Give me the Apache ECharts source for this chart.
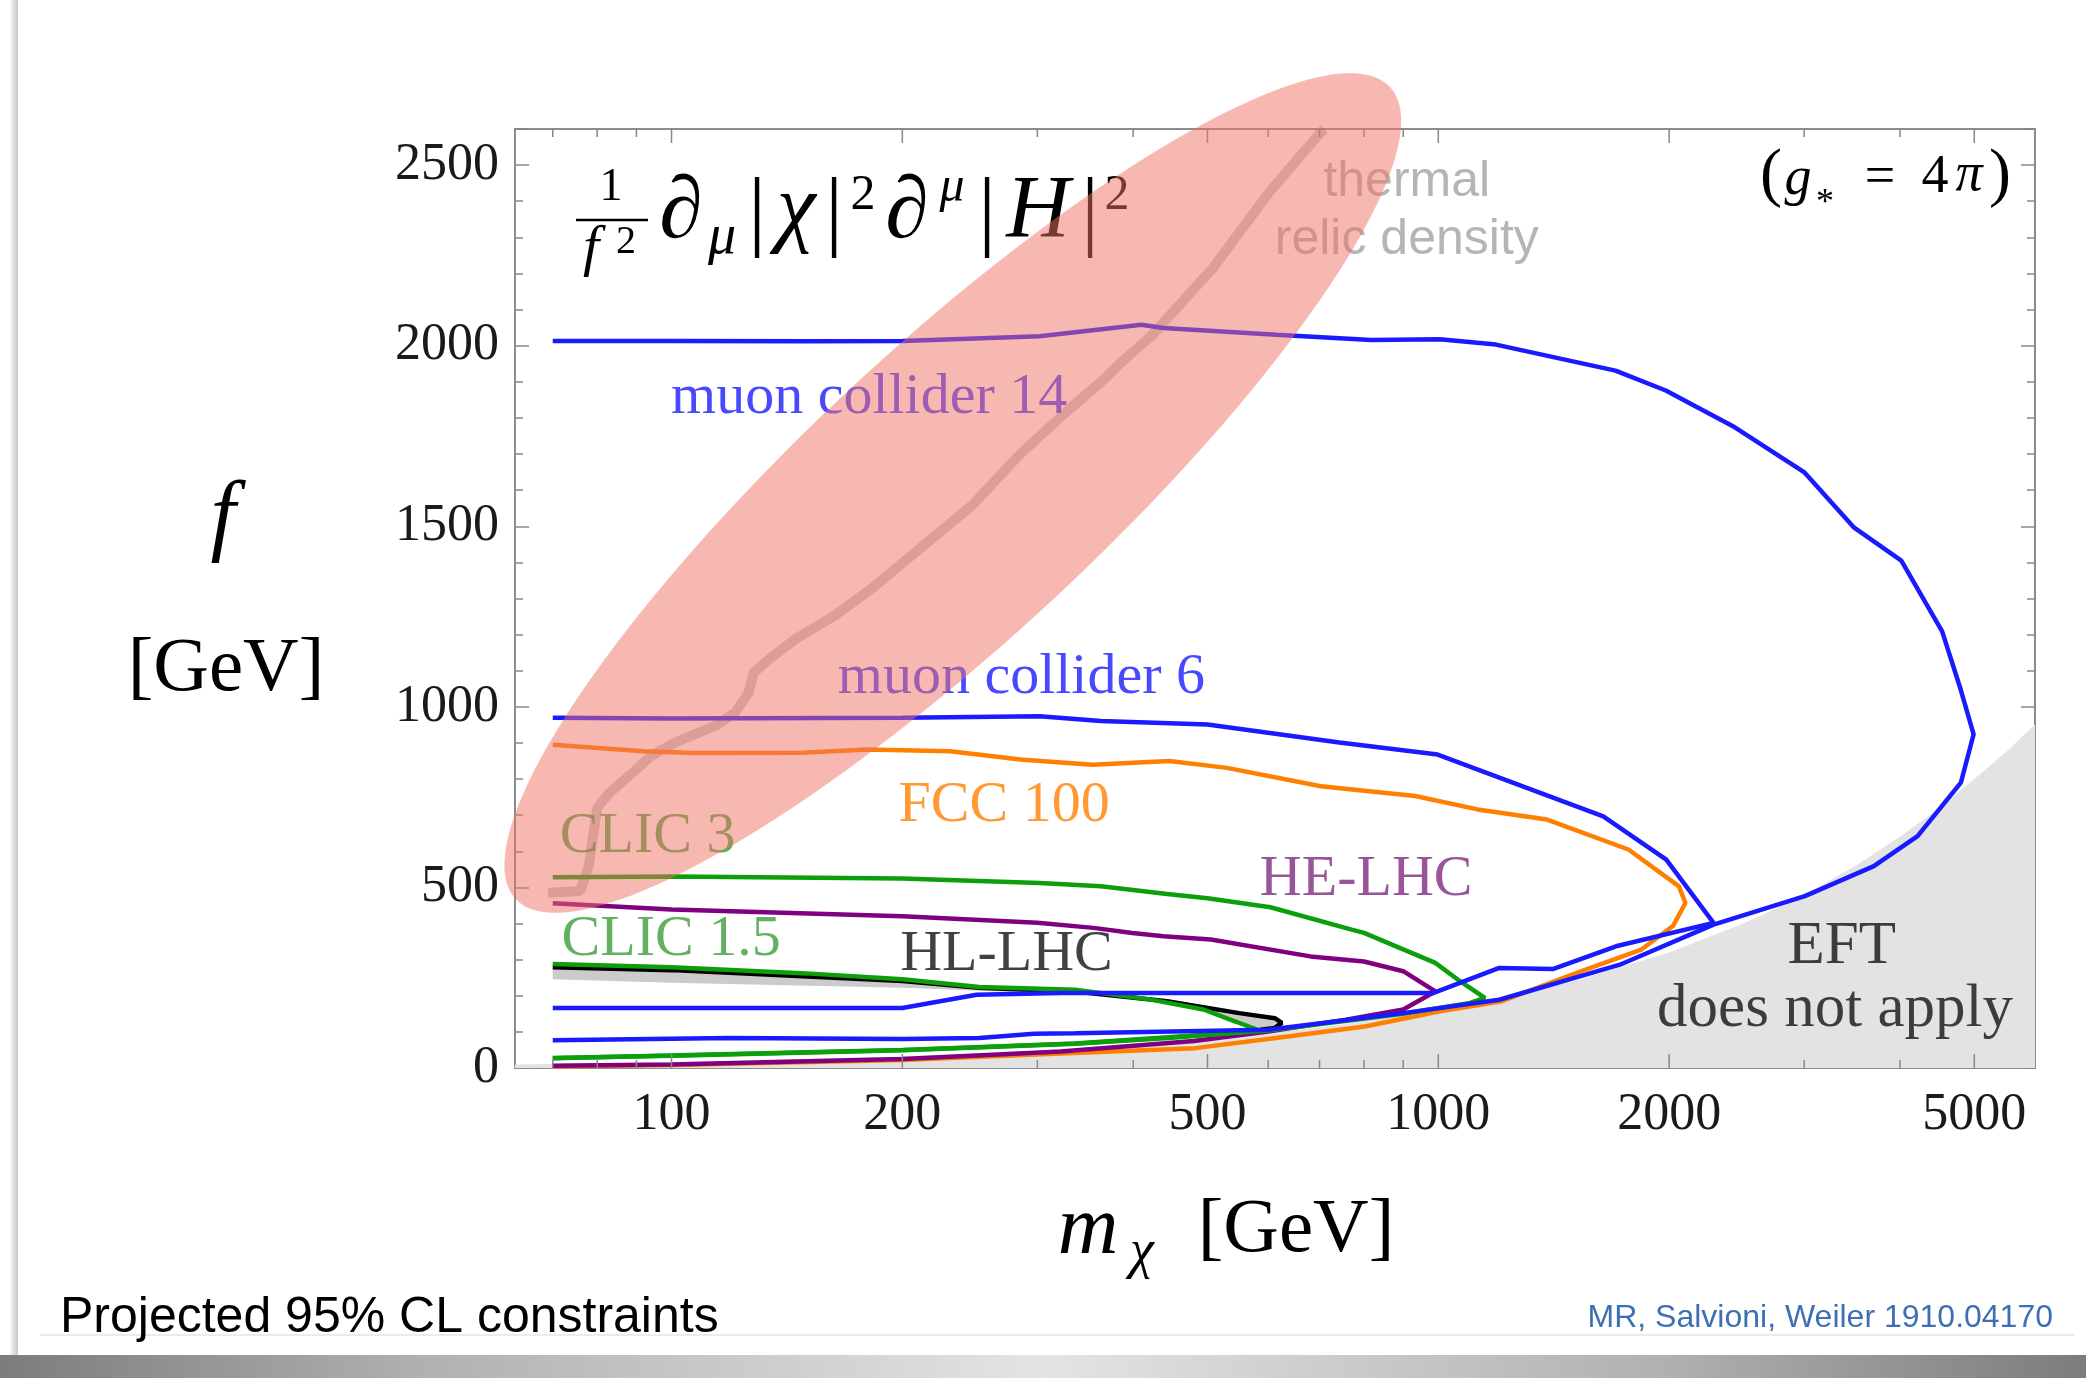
<!DOCTYPE html>
<html>
<head>
<meta charset="utf-8">
<script src="https://cdn.jsdelivr.net/npm/echarts@6/dist/echarts.min.js"></script>
<style>
  html, body { margin: 0; padding: 0; background: #fff; }
  #chart { width: 2086px; height: 1378px; }
</style>
</head>
<body>
<div id="chart"></div>
<script>
const SERIF = '"Liberation Serif", "DejaVu Serif", serif';
const SANS = '"Liberation Sans", Arial, sans-serif';

// contours: [m_chi (GeV), f (GeV)]
const muon14 = [[70,2013],[100,2013],[150,2012],[200,2013],[302,2026],[410,2058],[438,2049],[615,2030],[817,2016],[1004,2018],[1189,2003],[1702,1931],[1980,1876],[2436,1774],[2999,1650],[3486,1496],[4016,1405],[4540,1209],[4800,1048],[4990,924],[4803,790],[4217,642],[3698,559],[3006,476],[2285,397],[1725,286],[1201,189],[900,152],[600,106],[336,96],[297,95],[252,83],[200,80],[119,83],[70,77]];
const muon6 = [[70,970],[100,968],[200,970],[302,974],[363,961],[500,951],[743,901],[998,868],[1358,762],[1641,697],[1983,577],[2285,402],[1705,337],[1410,274],[1201,277],[986,208],[322,208],[250,203],[200,166],[70,166]];
const fcc100 = [[70,895],[92,877],[107,872],[148,873],[180,882],[231,877],[285,854],[354,840],[446,850],[530,831],[703,780],[933,753],[1125,716],[1386,688],[1770,605],[2060,503],[2100,457],[2023,393],[1840,328],[1553,272],[1210,185],[1005,157],[802,115],[640,88],[482,55],[322,40],[200,22],[100,8],[70,4]];
const heLHC = [[70,456],[100,439],[200,420],[300,402],[355,388],[399,374],[438,365],[505,356],[681,309],[800,295],[900,268],[991,212],[900,162],[758,134],[600,101],[480,75],[322,46],[200,25],[100,10],[70,6]];
const clic3 = [[70,528],[100,530],[200,525],[302,512],[363,503],[443,482],[500,470],[604,445],[771,383],[800,374],[991,291],[1060,245],[1150,194],[1100,180],[900,150],[600,104],[336,68],[200,50],[70,27]];
const clic15 = [[70,288],[100,279],[150,262],[200,246],[252,224],[336,217],[420,190],[494,162],[545,128],[580,106],[560,100],[450,84],[336,67],[200,49],[100,34],[70,28]];
const hlLHCedge = [[70,279],[100,271],[200,241],[252,222],[336,212],[443,185],[550,152],[612,138],[625,125],[612,111],[586,106]];
const hlLHCinner = [[545,125],[494,158],[420,186],[336,205],[252,214],[200,222],[100,236],[70,246]];
const thermal = [[69,485],[76,490],[78,560],[80,720],[83,762],[89,818],[94,864],[101,901],[114,947],[121,984],[126,1039],[128,1095],[134,1132],[145,1187],[163,1252],[182,1326],[209,1432],[247,1559],[284,1697],[326,1814],[363,1899],[391,1965],[422,2026],[509,2217],[604,2429],[701,2588],[710,2600]];
const eftEdge = [[62.5,10],[100,16],[200,32],[300,48],[500,80],[700,112],[1000,160],[1500,240],[2000,320],[2500,400],[3000,478],[3500,560],[4000,640],[4500,720],[5000,800],[5500,875],[6000,951]];
const eftFloor = [[6000,0],[62.5,0]];

// highlighted band: ends of the long axis, and short/long axis ratio
const ellipseAxis = [62.6, 468, 865, 2716];
const ellipseRatio = 0.245;

const xMajorTicks = [100, 200, 500, 1000, 2000, 5000];
const xMinorTicks = [70, 80, 90, 300, 400, 600, 700, 800, 900, 3000, 4000];

const labelTexts = ['muon collider 14', 'muon collider 6', 'FCC 100', 'CLIC 3', 'CLIC 1.5', 'HL-LHC', 'HE-LHC'];
const labelAt = [[100,1855],[165,1080],[198,726],[71.6,638],[72,354],[199,313],[586,520]];
const labelColors = ['#1a1aff', '#1a1aff', '#ff8000', '#2a9a2a', '#3a9e3a', '#111', '#802a80'];

// typeset pieces of the operator, the coupling note and the axis titles: [text, x, y, size, italic]
const formulaGlyphs = [
  ['1', 611, 188, 46, false], ['f', 591, 250, 58, true], ['2', 626, 242, 40, false],
  ['∂', 681, 214, 88, true], ['μ', 722, 238, 56, true], ['|', 757, 216, 88, false],
  ['χ', 796, 212, 88, true], ['|', 834, 216, 88, false], ['2', 863, 196, 50, false],
  ['∂', 907, 214, 88, true], ['μ', 952, 188, 50, true], ['|', 987, 216, 88, false],
  ['H', 1038, 213, 88, true], ['|', 1090, 216, 88, false], ['2', 1117, 196, 50, false]
];
const couplingGlyphs = [
  ['(', 1771, 177, 66, false], ['g', 1798, 180, 54, true], ['*', 1825, 204, 36, false],
  ['=', 1880, 179, 54, false], ['4', 1935, 178, 54, false], ['π', 1969, 176, 54, true], [')', 2000, 177, 66, false]
];
const titleGlyphs = [
  ['f', 223, 520, 90, true], ['[GeV]', 226, 670, 77, false],
  ['m', 1088, 1231, 84, true], ['χ', 1142, 1253, 54, true], ['[GeV]', 1296, 1231, 77, false]
];

const chart = echarts.init(document.getElementById('chart'));

function polygonRender(points, fill) {
  return function (params, api) {
    if (params.dataIndex !== 0) return null;
    return { type: 'polygon', shape: { points: points.map(p => api.coord(p)) }, style: { fill: fill } };
  };
}

function renderEllipse(params, api) {
  const p1 = api.coord([api.value(0), api.value(1)]);
  const p2 = api.coord([api.value(2), api.value(3)]);
  const cx = (p1[0] + p2[0]) / 2, cy = (p1[1] + p2[1]) / 2;
  const a = Math.hypot(p2[0] - p1[0], p2[1] - p1[1]) / 2;
  const b = a * ellipseRatio;
  const ang = Math.atan2(p2[1] - p1[1], p2[0] - p1[0]);
  const pts = [];
  for (let i = 0; i < 160; i++) {
    const t = i / 160 * Math.PI * 2;
    const x = a * Math.cos(t), y = b * Math.sin(t);
    pts.push([cx + x * Math.cos(ang) - y * Math.sin(ang), cy + x * Math.sin(ang) + y * Math.cos(ang)]);
  }
  return { type: 'polygon', shape: { points: pts }, style: { fill: 'rgba(241,114,102,0.5)' } };
}

function renderTick(params, api) {
  const v = api.value(0), major = api.value(1) > 0;
  const b = api.coord([v, 0]), t = api.coord([v, 2600]);
  const len = major ? 14 : 8;
  const st = { stroke: '#888', lineWidth: 1.5 };
  const children = [
    { type: 'line', shape: { x1: b[0], y1: b[1], x2: b[0], y2: b[1] - len }, style: st },
    { type: 'line', shape: { x1: t[0], y1: t[1], x2: t[0], y2: t[1] + len }, style: st }
  ];
  if (major) {
    children.push({ type: 'text', x: b[0], y: b[1] + 47,
      style: { text: String(v), fontSize: 52, fontFamily: SERIF, fill: '#1a1a1a', align: 'center', verticalAlign: 'middle' } });
  }
  return { type: 'group', children: children };
}

function yAxisDef(position, interval, tickLen, showLabel) {
  return {
    type: 'value', position: position, min: 0, max: 2600, interval: interval,
    axisLine: { show: false },
    axisTick: { show: true, inside: true, length: tickLen, lineStyle: { color: '#888', width: 1.5 } },
    axisLabel: { show: showLabel, margin: 16, fontSize: 52, fontFamily: SERIF, color: '#1a1a1a',
      formatter: v => (v > 2500 ? '' : String(v)) },
    splitLine: { show: false }
  };
}

function curve(name, data, color) {
  return { name: name, type: 'line', data: data, showSymbol: false, smooth: false, z: 3,
    lineStyle: { color: color, width: 4.5 }, emphasis: { disabled: true }, silent: true };
}

function glyphs(list) {
  return list.map(g => ({
    type: 'text', z: 1, x: g[1], y: g[2],
    style: { text: g[0], fontSize: g[3], fontStyle: g[4] ? 'italic' : 'normal', fontFamily: SERIF,
      fill: '#000', align: 'center', verticalAlign: 'middle' }
  }));
}

const labelSeriesData = labelAt.map((p, i) => ({
  value: p,
  label: { show: true, formatter: labelTexts[i], color: labelColors[i], position: [0, 0],
    align: 'left', verticalAlign: 'middle', fontSize: 58, fontFamily: SERIF }
}));
labelSeriesData.push(
  { value: [911, 2452], label: { show: true, formatter: 'thermal', color: '#a3a3a3', position: [0, 0], align: 'center', verticalAlign: 'middle', fontSize: 50, fontFamily: SANS } },
  { value: [911, 2290], label: { show: true, formatter: 'relic density', color: '#a3a3a3', position: [0, 0], align: 'center', verticalAlign: 'middle', fontSize: 50, fontFamily: SANS } },
  { value: [3363, 335], label: { show: true, formatter: 'EFT', color: '#111', position: [0, 0], align: 'center', verticalAlign: 'middle', fontSize: 61, fontFamily: SERIF } },
  { value: [3296, 158], label: { show: true, formatter: 'does not apply', color: '#111', position: [0, 0], align: 'center', verticalAlign: 'middle', fontSize: 61, fontFamily: SERIF } }
);

const option = {
  backgroundColor: '#fff',
  animation: false,
  grid: { left: 515, right: 51, top: 129, bottom: 310, show: true, borderColor: '#8c8c8c', borderWidth: 2,
    containLabel: false, outerBoundsMode: 'none' },
  xAxis: {
    type: 'log', logBase: 10, min: 62.5, max: 6000,
    axisLine: { show: false }, axisTick: { show: false }, axisLabel: { show: false }, splitLine: { show: false }
  },
  yAxis: [
    yAxisDef('left', 500, 14, true),
    yAxisDef('left', 100, 8, false),
    yAxisDef('right', 500, 14, false),
    yAxisDef('right', 100, 8, false)
  ],
  series: [
    { type: 'custom', z: 1, renderItem: polygonRender(eftEdge.concat(eftFloor), '#e3e3e3'),
      data: eftEdge, encode: { x: 0, y: 1 }, silent: true },
    { type: 'line', data: thermal, showSymbol: false, z: 2, lineStyle: { color: 'rgba(105,105,105,0.35)', width: 10 }, silent: true },
    { type: 'custom', z: 2, renderItem: polygonRender(hlLHCedge.concat(hlLHCinner), '#cbcbcb'),
      data: hlLHCedge, encode: { x: 0, y: 1 }, silent: true },
    curve('FCC 100', fcc100, '#ff8000'),
    curve('HE-LHC', heLHC, '#800080'),
    curve('CLIC 3', clic3, '#0b9f0b'),
    curve('HL-LHC', hlLHCedge, '#000'),
    curve('CLIC 1.5', clic15, '#0b9f0b'),
    curve('muon collider 6', muon6, '#1a1aff'),
    curve('muon collider 14', muon14, '#1a1aff'),
    { type: 'scatter', z: 5, symbolSize: 1, itemStyle: { color: 'rgba(0,0,0,0)' }, data: labelSeriesData, silent: true },
    { type: 'custom', z: 10, renderItem: renderEllipse, data: [ellipseAxis], encode: { x: [0, 2], y: [1, 3] }, silent: true },
    { type: 'custom', z: 6, renderItem: renderTick, encode: { x: 0, y: 1 }, silent: true,
      data: xMajorTicks.map(v => [v, 1]).concat(xMinorTicks.map(v => [v, 0])) }
  ],
  graphic: [
    // slide frame
    { type: 'rect', z: 0, shape: { x: 9, y: 0, width: 9, height: 1355 },
      style: { fill: new echarts.graphic.LinearGradient(0, 0, 1, 0, [{ offset: 0, color: '#ffffff' }, { offset: 1, color: '#c4c4c4' }]) } },
    { type: 'rect', z: 0, shape: { x: 0, y: 1355, width: 2086, height: 23 },
      style: { fill: new echarts.graphic.LinearGradient(0, 0, 1, 0, [
        { offset: 0, color: '#7c7c7c' }, { offset: 0.2, color: '#b0b0b0' }, { offset: 0.5, color: '#e4e4e4' },
        { offset: 0.8, color: '#b0b0b0' }, { offset: 1, color: '#7c7c7c' }]) } },
    { type: 'line', z: 0, shape: { x1: 40, y1: 1335, x2: 2075, y2: 1335 }, style: { stroke: '#e4e4e4', lineWidth: 1.5 } },
    { type: 'text', z: 1, x: 60, y: 1318, style: { text: 'Projected 95% CL constraints', fontSize: 50, fontFamily: SANS, fill: '#000', align: 'left', verticalAlign: 'middle' } },
    { type: 'text', z: 1, x: 2053, y: 1318, style: { text: 'MR, Salvioni, Weiler 1910.04170', fontSize: 32, fontFamily: SANS, fill: '#3e6fb4', align: 'right', verticalAlign: 'middle' } },
    { type: 'line', z: 1, shape: { x1: 576, y1: 220, x2: 648, y2: 220 }, style: { stroke: '#000', lineWidth: 2.5 } }
  ].concat(glyphs(titleGlyphs), glyphs(formulaGlyphs), glyphs(couplingGlyphs))
};

chart.setOption(option);
</script>
</body>
</html>
